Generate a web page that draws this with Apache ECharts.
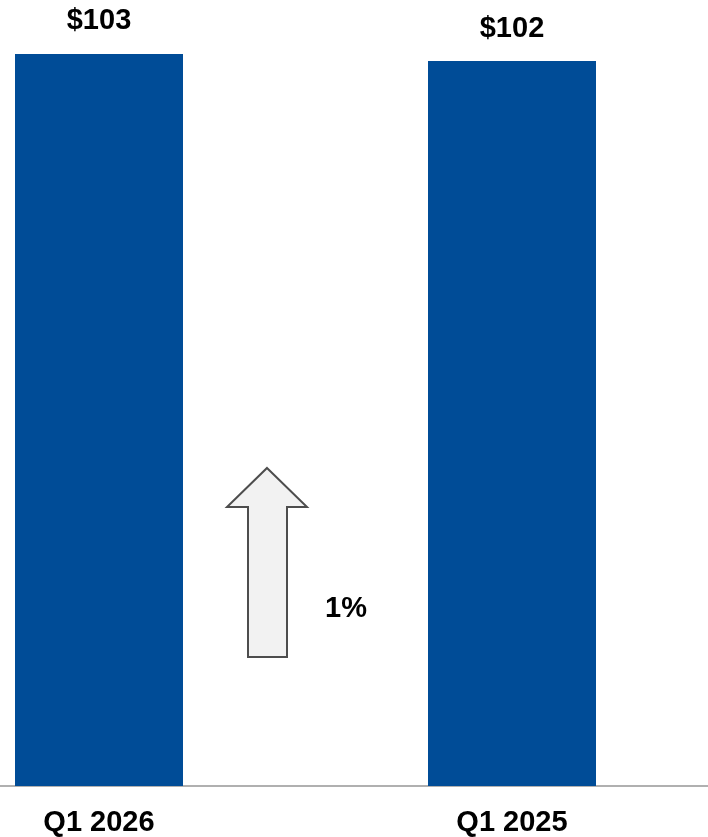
<!DOCTYPE html>
<html><head><meta charset="utf-8">
<script src="https://cdn.jsdelivr.net/npm/echarts@6/dist/echarts.min.js"></script>
<style>html,body{margin:0;padding:0;background:#fff}#c{width:708px;height:837px}</style>
</head><body><div id="c"></div>
<script>
var categories = ['Q1 2026', 'Q1 2025'];
var values = [103, 102];
var valueLabels = ['$103', '$102'];
var changeLabel = '1%';

var chart = echarts.init(document.getElementById('c'));
var font = 'Liberation Sans, Arial, sans-serif';
chart.setOption({
  animation: false,
  grid: { left: -107.5, width: 826, top: 4.2, bottom: 51, containLabel: false, outerBoundsMode: 'none' },
  xAxis: {
    type: 'category', data: categories,
    axisLine: { lineStyle: { color: '#b0b0b0', width: 2 } },
    axisTick: { show: false },
    axisLabel: { color: '#000', fontFamily: font, fontWeight: 'bold', fontSize: 29, margin: 22 }
  },
  yAxis: { type: 'value', min: 0, max: 110, show: false, splitLine: { show: false } },
  series: [{
    type: 'bar', data: values, barWidth: 168,
    itemStyle: { color: '#004C97' },
    label: {
      show: true, position: 'top', distance: 18,
      formatter: function (p) { return valueLabels[p.dataIndex]; },
      color: '#000', fontFamily: font, fontWeight: 'bold', fontSize: 29
    }
  }],
  graphic: [
    {
      type: 'polygon',
      shape: { points: [[267, 468], [307, 507], [287, 507], [287, 657], [248, 657], [248, 507], [227, 507]] },
      style: { fill: '#f2f2f2', stroke: '#4d4d4d', lineWidth: 2 }
    },
    {
      type: 'text', left: 325, top: 594,
      style: { text: changeLabel, fill: '#000', font: 'bold 29px ' + font }
    }
  ]
});
</script></body></html>
